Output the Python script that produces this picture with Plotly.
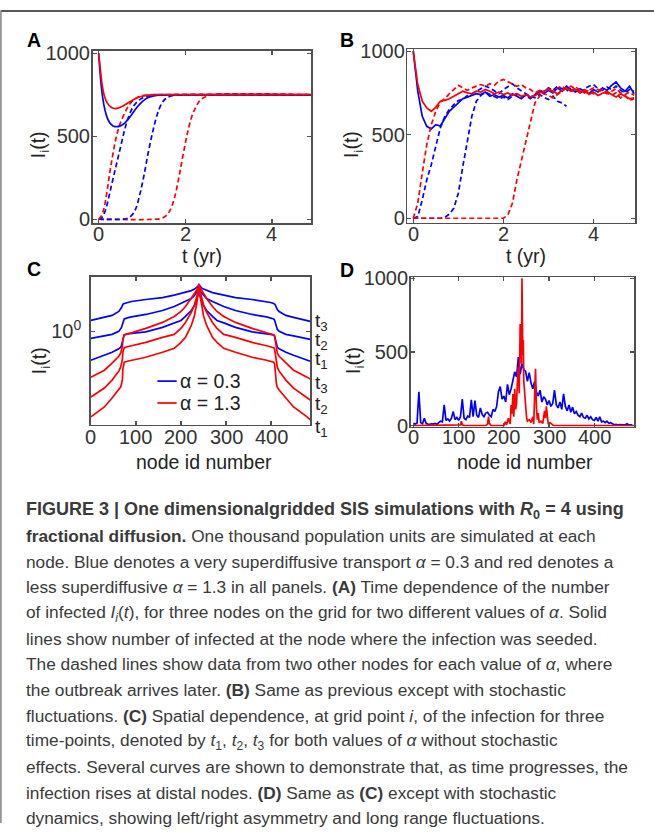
import plotly.graph_objects as go

W, H = 654, 835
BLUE = "#0000FF"
RED = "#FF0000"

# ---------------- Panel A (deterministic time series) ----------------
A_RED_SOLID_T = [0, 0.04, 0.08, 0.13, 0.2, 0.28, 0.36, 0.45, 0.55, 0.7, 0.85, 1.0, 1.15, 1.3, 1.6, 2.5, 4.9]
A_RED_SOLID_I = [1000, 900, 810, 745, 700, 677, 668, 670, 682, 705, 728, 742, 749, 752, 752, 752, 752]
A_BLUE_SOLID_T = [0, 0.03, 0.07, 0.12, 0.18, 0.25, 0.33, 0.42, 0.5, 0.6, 0.7, 0.8, 0.9, 1.0, 1.13, 1.3, 1.5, 2.0, 4.9]
A_BLUE_SOLID_I = [1000, 890, 780, 690, 625, 583, 563, 558, 563, 580, 610, 645, 680, 708, 733, 746, 750, 750, 750]
A_RED_D1_T = [0, 0.05, 0.1, 0.15, 0.2, 0.25, 0.3, 0.35, 0.4, 0.45, 0.5, 0.6, 0.7, 0.8, 0.9, 1.0, 1.2, 1.5, 4.9]
A_RED_D1_I = [0, 15, 45, 100, 180, 270, 350, 425, 490, 540, 580, 640, 688, 718, 736, 745, 750, 752, 752]
A_BLUE_D1_T = [0, 0.05, 0.1, 0.15, 0.2, 0.3, 0.4, 0.5, 0.6, 0.7, 0.8, 0.9, 1.0, 1.15, 1.3, 1.6, 4.9]
A_BLUE_D1_I = [0, 5, 20, 50, 95, 210, 320, 430, 540, 625, 680, 712, 730, 743, 748, 750, 750]
A_BLUE_D2_T = [0, 0.5, 0.65, 0.75, 0.85, 0.95, 1.05, 1.15, 1.25, 1.35, 1.45, 1.55, 1.7, 1.9, 4.9]
A_BLUE_D2_I = [0, 0, 5, 20, 60, 150, 270, 410, 530, 630, 695, 728, 745, 750, 750]
A_RED_D2_T = [0, 1.3, 1.45, 1.55, 1.65, 1.75, 1.85, 1.95, 2.05, 2.15, 2.25, 2.35, 2.5, 2.7, 4.9]
A_RED_D2_I = [0, 0, 5, 20, 55, 130, 250, 390, 520, 620, 680, 720, 742, 752, 752]

# ---------------- Panel B (stochastic time series) ----------------
B_T = [0.0, 0.1, 0.2, 0.3, 0.4, 0.5, 0.6, 0.7, 0.8, 0.9,
       1.0, 1.1, 1.2, 1.3, 1.4, 1.5, 1.6, 1.7, 1.8, 1.9,
       2.0, 2.1, 2.2, 2.3, 2.4, 2.5, 2.6, 2.7, 2.8, 2.9,
       3.0, 3.1, 3.2, 3.3, 3.4, 3.5, 3.6, 3.7, 3.8, 3.9,
       4.0, 4.1, 4.2, 4.3, 4.4, 4.5, 4.6, 4.7, 4.8, 4.9]
B_BLUE_SOLID = [1000, 760, 610, 550, 535, 560, 552, 600, 640, 665,
                690, 715, 725, 735, 745, 740, 755, 730, 740, 725,
                735, 720, 745, 730, 715, 740, 725, 735, 760, 745,
                765, 750, 780, 760, 790, 770, 755, 775, 760, 745,
                770, 755, 780, 765, 795, 815, 780, 760, 790, 745]
B_RED_SOLID = [1000, 800, 700, 660, 640, 665, 700, 705, 715, 730,
               745, 760, 750, 745, 760, 755, 770, 760, 745, 755,
               740, 750, 735, 745, 730, 740, 725, 735, 750, 760,
               775, 760, 745, 765, 780, 760, 770, 750, 765, 740,
               755, 735, 750, 760, 740, 725, 745, 730, 715, 720]
B_RED_D1 = [0, 90, 270, 440, 560, 640, 695, 715, 745, 770,
            795, 780, 765, 780, 790, 800, 790, 805, 795, 820,
            830, 815, 805, 790, 800, 780, 770, 750, 765, 745,
            735, 720, 740, 760, 780, 790, 775, 760, 770, 755,
            745, 760, 770, 750, 735, 750, 720, 735, 705, 715]
B_BLUE_D1 = [0, 10, 110, 230, 320, 430, 540, 610, 650, 680,
             705, 710, 735, 745, 760, 775, 790, 780, 760, 745,
             770, 790, 805, 780, 760, 745, 730, 720, 740, 725,
             710, 730, 700, 690, 670]
B_BLUE_D2 = [0, 0, 0, 0, 0, 0, 0, 5, 25, 60,
             150, 310, 470, 610, 700, 735, 755, 740, 730, 715,
             725, 710, 730, 745, 725, 735, 715, 740, 765, 755,
             780, 765, 790, 775, 760, 780, 770, 750, 775, 790,
             800, 775, 765, 785, 770, 790, 765, 750, 770, 760]
B_RED_D2 = [0, 0, 0, 0, 0, 0, 0, 0, 0, 0,
            0, 0, 0, 0, 0, 0, 0, 0, 0, 0,
            0, 20, 90, 230, 350, 450, 580, 690, 730, 760,
            770, 755, 780, 790, 770, 760, 785, 770, 750, 765,
            780, 770, 755, 745, 760, 775, 750, 740, 755, 735]

# ---------------- Panel C (spatial profiles, log scale) ----------------
C_NODES = [0, 30, 47, 62, 66, 68, 70, 71, 72, 74, 81, 90, 122, 159, 185, 200, 210, 223, 230, 235, 238, 240,
           242, 245, 250, 257, 270, 280, 295, 321, 358, 390, 399, 406, 408, 409, 410, 412, 414, 418, 433, 450, 480, 487]
C_LOG_BLUE_T3 = [0.11, 0.14, 0.16, 0.20, 0.22, 0.24, 0.26, 0.27, 0.275, 0.28, 0.29, 0.30, 0.32, 0.34, 0.365, 0.38, 0.39, 0.41, 0.425, 0.44, 0.455, 0.47,
                 0.455, 0.44, 0.425, 0.41, 0.39, 0.38, 0.365, 0.34, 0.32, 0.30, 0.29, 0.28, 0.275, 0.27, 0.26, 0.24, 0.22, 0.20, 0.16, 0.14, 0.11, 0.10]
C_LOG_BLUE_T2 = [-0.07, -0.045, -0.03, 0.0, 0.02, 0.04, 0.07, 0.09, 0.11, 0.125, 0.135, 0.145, 0.17, 0.21, 0.25, 0.28, 0.30, 0.33, 0.36, 0.39, 0.42, 0.47,
                 0.42, 0.39, 0.36, 0.33, 0.30, 0.28, 0.25, 0.21, 0.17, 0.145, 0.135, 0.125, 0.11, 0.09, 0.07, 0.04, 0.02, 0.0, -0.03, -0.045, -0.07, -0.08]
C_LOG_BLUE_T1 = [-0.29, -0.24, -0.21, -0.175, -0.16, -0.14, -0.10, -0.07, -0.05, -0.035, -0.025, -0.02, -0.005, 0.04, 0.085, 0.11, 0.15, 0.21, 0.26, 0.31, 0.37, 0.47,
                 0.37, 0.31, 0.26, 0.21, 0.15, 0.11, 0.085, 0.04, -0.005, -0.02, -0.025, -0.035, -0.05, -0.07, -0.10, -0.14, -0.16, -0.175, -0.21, -0.24, -0.29, -0.30]
C_LOG_RED_T3 = [-0.46, -0.39, -0.32, -0.25, -0.22, -0.19, -0.15, -0.08, -0.05, -0.035, -0.025, -0.015, 0.03, 0.09, 0.15, 0.20, 0.25, 0.33, 0.38, 0.42, 0.445, 0.47,
                0.445, 0.42, 0.38, 0.33, 0.25, 0.20, 0.15, 0.09, 0.03, -0.015, -0.025, -0.035, -0.05, -0.08, -0.15, -0.19, -0.22, -0.25, -0.32, -0.39, -0.46, -0.48]
C_LOG_RED_T2 = [-0.66, -0.57, -0.49, -0.40, -0.36, -0.33, -0.28, -0.21, -0.18, -0.165, -0.155, -0.145, -0.11, -0.06, -0.03, 0.03, 0.09, 0.19, 0.27, 0.35, 0.41, 0.47,
                0.41, 0.35, 0.27, 0.19, 0.09, 0.03, -0.03, -0.06, -0.11, -0.145, -0.155, -0.165, -0.18, -0.21, -0.28, -0.33, -0.36, -0.40, -0.49, -0.57, -0.66, -0.69]
C_LOG_RED_T1 = [-0.86, -0.76, -0.67, -0.59, -0.56, -0.53, -0.48, -0.38, -0.33, -0.31, -0.30, -0.29, -0.26, -0.21, -0.17, -0.11, -0.06, 0.06, 0.16, 0.28, 0.37, 0.47,
                0.37, 0.28, 0.16, 0.06, -0.06, -0.11, -0.17, -0.21, -0.26, -0.29, -0.30, -0.31, -0.33, -0.38, -0.48, -0.53, -0.56, -0.59, -0.67, -0.76, -0.86, -0.89]

# ---------------- Panel D (stochastic spatial profile) ----------------
D_BLUE_NODES = list(range(0, 488, 4))
D_BLUE_I = [15, 10, 18, 230, 20, 12, 50, 15, 10, 8,
            12, 10, 15, 8, 20, 30, 25, 140, 35, 45,
            30, 50, 95, 40, 55, 35, 60, 180, 50, 40,
            65, 55, 175, 60, 170, 70, 55, 120, 75, 60,
            85, 90, 70, 60, 110, 95, 130, 230, 265, 180,
            200, 160, 280, 210, 250, 300, 365, 330, 465, 350,
            420, 380, 370, 300, 360, 290, 250, 300, 230, 200,
            240, 160, 195, 180, 140, 170, 130, 150, 240, 140,
            120, 160, 110, 215, 130, 100, 140, 90, 125, 80,
            95, 70, 60, 85, 55, 50, 70, 45, 60, 40,
            35, 55, 30, 60, 25, 30, 20, 30, 15, 20,
            10, 5, 8, 4, 6, 3, 5, 4, 12, 5,
            3, 4]
D_RED_NODES = [0, 100, 104, 106, 108, 112, 160, 164, 166, 168, 172, 200, 203, 206, 210, 214, 216, 218, 220, 222,
               224, 226, 228, 230, 232, 234, 236, 237, 238, 239, 240, 241, 242, 243, 244, 246, 248, 250, 252, 256,
               260, 264, 266, 268, 270, 272, 274, 276, 278, 282, 286, 290, 292, 294, 296, 298, 302, 310, 487]
D_RED_I = [0, 0, 5, 30, 5, 0, 0, 10, 60, 15, 0, 0, 25, 5, 50, 10, 140, 80, 215, 60,
           250, 110, 150, 300, 400, 220, 690, 500, 640, 420, 1000, 700, 480, 580, 300, 200, 150, 60, 30, 40,
           20, 60, 10, 150, 385, 120, 40, 85, 20, 30, 15, 100, 50, 130, 60, 10, 20, 0, 0]

# ---------------- tick labels / text ----------------
T_TICKS = [0, 2, 4]
NODE_TICKS = [0, 100, 200, 300, 400]
I_TICKS = [0, 500, 1000]

CAPTION = [
    "<b>FIGURE 3 | One dimensionalgridded SIS simulations with <i>R</i><sub>0</sub> = 4 using</b>",
    "<b>fractional diffusion.</b> One thousand population units are simulated at each",
    "node. Blue denotes a very superdiffusive transport <i>α</i> = 0.3 and red denotes a",
    "less superdiffusive <i>α</i> = 1.3 in all panels. <b>(A)</b> Time dependence of the number",
    "of infected <i>I<sub>i</sub></i>(<i>t</i>), for three nodes on the grid for two different values of <i>α</i>. Solid",
    "lines show number of infected at the node where the infection was seeded.",
    "The dashed lines show data from two other nodes for each value of <i>α</i>, where",
    "the outbreak arrives later. <b>(B)</b> Same as previous except with stochastic",
    "fluctuations. <b>(C)</b> Spatial dependence, at grid point <i>i</i>, of the infection for three",
    "time-points, denoted by <i>t</i><sub>1</sub>, <i>t</i><sub>2</sub>, <i>t</i><sub>3</sub> for both values of <i>α</i> without stochastic",
    "effects. Several curves are shown to demonstrate that, as time progresses, the",
    "infection rises at distal nodes. <b>(D)</b> Same as <b>(C)</b> except with stochastic",
    "dynamics, showing left/right asymmetry and long range fluctuations.",
]
T_LABELS = ["t<sub>3</sub>", "t<sub>2</sub>", "t<sub>1</sub>", "t<sub>3</sub>", "t<sub>2</sub>", "t<sub>1</sub>"]
LEGEND_TEXT = ["α = 0.3", "α = 1.3"]

# ---------------- layout helpers (picture pixels -> figure coordinates) ----------------
OX, OY, SX, SY = 7.5, 8.0, 0.988, 0.981

def fx(x):
    return (x - OX) / SX

def fy(y):
    return (y - OY) / SY

def px(x):
    return min(max(fx(x) / W, 0.0), 1.0)

def py(y):
    return min(max(1 - fy(y) / H, 0.0), 1.0)

def xd(l, r):
    return [px(l), px(r)]

def yd(t, b):
    return [py(b), py(t)]

fig = go.Figure()
LW = 1.7
DASH = "5px,3px"

def line(x, y, color, dash=None, xa="x", ya="y", shape="linear"):
    fig.add_trace(go.Scatter(x=x, y=y, mode="lines", xaxis=xa, yaxis=ya, showlegend=False,
                             line=dict(color=color, width=LW, dash=dash, shape=shape), hoverinfo="skip"))

# A
line(A_RED_D2_T, A_RED_D2_I, RED, DASH, "x", "y", "spline")
line(A_BLUE_D2_T, A_BLUE_D2_I, BLUE, DASH, "x", "y", "spline")
line(A_BLUE_D1_T, A_BLUE_D1_I, BLUE, DASH, "x", "y", "spline")
line(A_RED_D1_T, A_RED_D1_I, RED, DASH, "x", "y", "spline")
line(A_BLUE_SOLID_T, A_BLUE_SOLID_I, BLUE, None, "x", "y", "spline")
line(A_RED_SOLID_T, A_RED_SOLID_I, RED, None, "x", "y", "spline")
# B
line(B_T[:len(B_BLUE_D1)], B_BLUE_D1, BLUE, DASH, "x2", "y2")
line(B_T, B_BLUE_D2, BLUE, DASH, "x2", "y2")
line(B_T, B_BLUE_SOLID, BLUE, None, "x2", "y2")
line(B_T, B_RED_D2, RED, DASH, "x2", "y2")
line(B_T, B_RED_D1, RED, DASH, "x2", "y2")
line(B_T, B_RED_SOLID, RED, None, "x2", "y2")
# C
for arr, col in [(C_LOG_BLUE_T3, BLUE), (C_LOG_BLUE_T2, BLUE), (C_LOG_BLUE_T1, BLUE),
                 (C_LOG_RED_T3, RED), (C_LOG_RED_T2, RED), (C_LOG_RED_T1, RED)]:
    line(C_NODES, [10 ** v for v in arr], col, None, "x3", "y3")
# D
line(D_BLUE_NODES, D_BLUE_I, BLUE, None, "x4", "y4")
line(D_RED_NODES, D_RED_I, RED, None, "x4", "y4")

TICKFONT = dict(family="Liberation Sans, Arial, sans-serif", size=20, color="#333333")
AX = dict(showline=True, linecolor="#505050", linewidth=1.6, mirror="allticks", ticks="inside",
          ticklen=4, tickcolor="#505050", tickwidth=1.2, showgrid=False, zeroline=False, tickfont=TICKFONT)
XAX = dict(AX, showticklabels=False)
YS = -3

fig.update_layout(
    width=W, height=H, margin=dict(l=0, r=0, t=0, b=0),
    paper_bgcolor="white", plot_bgcolor="white", showlegend=False,
    xaxis=dict(XAX, domain=xd(99, 314.7), range=[-0.14, 4.9], tickvals=T_TICKS, anchor="y"),
    yaxis=dict(AX, domain=yd(49.3, 222), range=[-22, 1014], tickvals=I_TICKS, anchor="x", ticklabelstandoff=YS),
    xaxis2=dict(XAX, domain=xd(410, 635.3), range=[-0.13, 4.93], tickvals=T_TICKS, anchor="y2"),
    yaxis2=dict(AX, domain=yd(47.3, 221.7), range=[-26, 1012], tickvals=I_TICKS, anchor="x2", ticklabelstandoff=YS),
    xaxis3=dict(XAX, domain=xd(97.3, 314), range=[0, 487], tickvals=NODE_TICKS, anchor="y3"),
    yaxis3=dict(AX, domain=yd(276, 425), type="log", range=[-0.94, 0.55], tickvals=[1],
                ticktext=["10<sup>0</sup>"], anchor="x3", ticklabelstandoff=4),
    xaxis4=dict(XAX, domain=xd(413.3, 634), range=[-6, 488], tickvals=NODE_TICKS, anchor="y4"),
    yaxis4=dict(AX, domain=yd(276.7, 426.7), range=[-7, 1007], tickvals=I_TICKS, anchor="x4", ticklabelstandoff=YS),
)

FONT = "Liberation Sans, Arial, sans-serif"
ann = []

def text(x, y, s, size=19.5, color="#222222", xanchor="center", angle=0, family=FONT, bold=False):
    ann.append(dict(x=px(x), y=py(y), xref="paper", yref="paper", text=(f"<b>{s}</b>" if bold else s),
                    showarrow=False, xanchor=xanchor, yanchor="middle", textangle=angle,
                    font=dict(family=family, size=size, color=color)))

# x tick labels placed through each axis' own scale
for xref, ticks, ylab in [("x", T_TICKS, 233), ("x2", T_TICKS, 233), ("x3", NODE_TICKS, 437.5), ("x4", NODE_TICKS, 437.5)]:
    for v in ticks:
        ann.append(dict(x=v, y=py(ylab), xref=xref, yref="paper", text=str(v), showarrow=False,
                        xanchor="center", yanchor="middle", font=TICKFONT))

# panel letters
for lab, x, y in [("A", 41, 38), ("B", 350, 38), ("C", 41, 268), ("D", 350, 269)]:
    text(x, y, lab, size=19.5, color="#000000", bold=True)
# axis titles
text(207, 255, "t (yr)")
text(527, 255, "t (yr)")
text(209, 462, "node id number")
text(526, 462, "node id number")
for x, y in [(46, 143), (356, 143), (47, 360), (357, 360)]:
    text(x, y, "I<sub>i</sub>(t)", angle=-90)
# t labels in C
for s, y in zip(T_LABELS, [322, 341, 360, 384, 405, 428]):
    text(317, y, s, xanchor="left", size=19)
# legend in C
shapes = []
for (s, y, col) in [(LEGEND_TEXT[0], 381, BLUE), (LEGEND_TEXT[1], 403, RED)]:
    shapes.append(dict(type="line", xref="paper", yref="paper", x0=px(163), x1=px(182), y0=py(y), y1=py(y),
                       line=dict(color=col, width=LW)))
    text(183, y, s, size=19.5, xanchor="left")

# caption
CAP_FONT = "Liberation Sans Narrow, Arial Narrow, Liberation Sans, sans-serif"
for i, s in enumerate(CAPTION):
    text(31, 511 + 25.8 * i, s, size=(18 if i == 0 else 17.3), color="#3a3a3a", xanchor="left", family=CAP_FONT)

# figure frame
shapes.append(dict(type="line", xref="paper", yref="paper", x0=0.6 / W, x1=1, y0=1 - 1.0 / H, y1=1 - 1.0 / H,
                   line=dict(color="#222222", width=1.4)))
shapes.append(dict(type="line", xref="paper", yref="paper", x0=0.9 / W, x1=0.9 / W, y0=1 - 1.0 / H, y1=py(825),
                   line=dict(color="#8a8a8a", width=1.6)))

fig.update_layout(annotations=ann, shapes=shapes)

POST = ("var s=document.createElement('style');"
        "s.textContent='html,body{margin:0!important;padding:0!important;overflow:hidden!important;"
        "width:654px!important;height:835px!important;} body>div{margin:0!important;padding:0!important;}';"
        "document.head.appendChild(s);"
        "var gd=document.getElementById('{plot_id}');gd.style.position='absolute';gd.style.left='0px';gd.style.top='0px';")
fig.write_html("out.html", post_script=POST, config={"displayModeBar": False, "staticPlot": True})
